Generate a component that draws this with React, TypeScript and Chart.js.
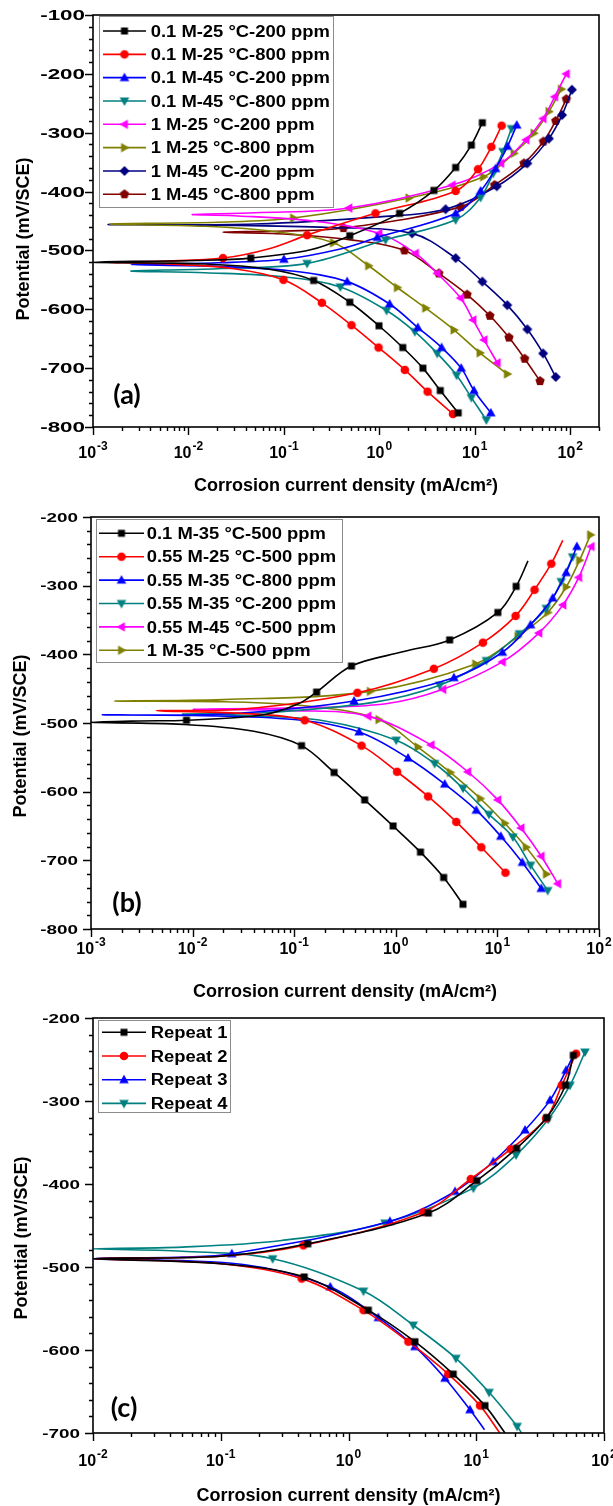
import React, { useEffect, useRef } from 'react';
import { Chart, registerables } from 'chart.js';

Chart.register(...registerables);

// [current density (mA/cm²), potential (mV/SCE), marker shown (1) or not (0)]
type Pt = [number, number, number];

// ---------------- Panel (a) ----------------
const namesA = [
  '0.1 M-25 °C-200 ppm', '0.1 M-25 °C-800 ppm', '0.1 M-45 °C-200 ppm', '0.1 M-45 °C-800 ppm',
  '1 M-25 °C-200 ppm', '1 M-25 °C-800 ppm', '1 M-45 °C-200 ppm', '1 M-45 °C-800 ppm',
];
const a1: Pt[] = [[6.7,-776,1],[4.35,-738,1],[2.86,-700,1],[1.76,-665,1],[0.99,-628,1],[0.49,-588,1],[0.205,-551,1],[0.07,-532,0],[0.015,-523,0],[0.001,-520,0],[0.012,-517,0],[0.045,-513,1],[0.19,-499,0],[0.49,-475,1],[1.63,-437,1],[3.73,-398,1],[6.3,-359,1],[9.2,-321,1],[12,-283,1]];
const a2: Pt[] = [[5.9,-778,1],[3.2,-740,1],[1.85,-703,1],[0.98,-665,1],[0.51,-627,1],[0.25,-589,1],[0.099,-550,1],[0.03,-531,0],[0.006,-523,0],[0.00134,-520,0],[0.006,-518,0],[0.023,-513,1],[0.07,-497,0],[0.175,-474,1],[0.91,-437,1],[6.3,-399,1],[10.8,-362,1],[14.9,-324,1],[19.1,-288,1]];
const a3: Pt[] = [[14.7,-776,1],[9.8,-738,1],[7.2,-700,1],[4.49,-665,1],[2.53,-631,1],[1.28,-591,1],[0.46,-553,1],[0.12,-535,0],[0.02,-527,0],[0.0025,-524,0],[0.02,-521,0],[0.1,-515,1],[0.4,-497,0],[0.95,-478,1],[6.3,-437,1],[11.5,-399,1],[16.5,-361,1],[22,-323,1],[27.5,-287,1]];
const a4: Pt[] = [[13.2,-788,1],[9.2,-750,1],[6.44,-712,1],[4.04,-675,1],[2.35,-638,1],[1.19,-602,1],[0.39,-562,1],[0.1,-545,0],[0.015,-538,0],[0.0025,-535,0],[0.02,-531,0],[0.175,-522,1],[1.16,-482,1],[6.3,-448,1],[11.5,-410,1],[15.6,-369,1],[19.7,-332,1],[24.2,-293,1]];
const a5: Pt[] = [[17.2,-691,1],[12.5,-652,1],[9.6,-618,1],[7.1,-581,1],[4.04,-539,1],[2.39,-505,1],[0.99,-471,1],[0.2,-450,0],[0.03,-441,0],[0.011,-439,0],[0.05,-436,0],[0.48,-428,1],[5.8,-389,1],[18.7,-352,1],[34.4,-312,1],[52,-276,1],[68.7,-239,1],[91,-200,1]];
const a6: Pt[] = [[21.9,-710,1],[11.3,-674,1],[6.04,-635,1],[3.05,-598,1],[1.54,-563,1],[0.77,-526,1],[0.33,-487,1],[0.08,-468,0],[0.015,-459,0],[0.0015,-455,0],[0.02,-452,0],[0.126,-445,1],[2.04,-411,1],[12.3,-375,1],[25.7,-335,1],[41.6,-301,1],[59.7,-264,1],[80.5,-226,1]];
const a7: Pt[] = [[70.4,-715,1],[52,-675,1],[35.5,-634,1],[21.9,-593,1],[12,-553,1],[6.3,-513,1],[2.2,-471,1],[0.3,-461,0],[0.02,-457,0],[0.00145,-456,0],[0.05,-455,0],[1,-443,0],[4.94,-430,1],[17,-391,1],[35.5,-352,1],[59.7,-310,1],[82,-270,1],[104,-227,1]];
const a8: Pt[] = [[48.2,-722,1],[33.3,-684,1],[22.8,-648,1],[14.4,-611,1],[8.3,-575,1],[4.2,-539,1],[1.83,-500,1],[0.5,-482,0],[0.1,-472,0],[0.023,-469,0],[0.1,-467,0],[0.42,-462,1],[7.1,-426,1],[16.1,-389,1],[32.7,-352,1],[52.3,-315,1],[70.4,-280,1],[91,-243,1]];
const yTicksA = [-100, -200, -300, -400, -500, -600, -700, -800];
const xExpsA = [-3, -2, -1, 0, 1, 2];

// ---------------- Panel (b) ----------------
const namesB = [
  '0.1 M-35 °C-500 ppm', '0.55 M-25 °C-500 ppm', '0.55 M-35 °C-800 ppm',
  '0.55 M-35 °C-200 ppm', '0.55 M-45 °C-500 ppm', '1 M-35 °C-500 ppm',
];
const b1: Pt[] = [[4.58,-764,1],[2.96,-725,1],[1.75,-688,1],[0.94,-650,1],[0.494,-612,1],[0.247,-572,1],[0.118,-533,1],[0.04,-512,0],[0.008,-502,0],[0.001,-499,0],[0.003,-497,0],[0.0087,-496,1],[0.05,-488,0],[0.11,-472,0],[0.166,-455,1],[0.366,-417,1],[1.2,-396,0],[3.39,-379,1],[10.1,-339,1],[15.3,-301,1],[20,-264,0]];
const b2: Pt[] = [[12,-718,1],[6.94,-681,1],[3.94,-644,1],[2.08,-607,1],[1.03,-571,1],[0.46,-533,1],[0.127,-496,1],[0.03,-486,0],[0.0044,-482,0],[0.03,-480,0],[0.419,-456,1],[2.37,-421,1],[7.2,-383,1],[15.1,-344,1],[23.2,-306,1],[33.9,-268,1],[44,-234,0]];
const b3: Pt[] = [[27,-741,1],[17.6,-703,1],[10.8,-665,1],[6.2,-627,1],[3.03,-589,1],[1.32,-551,1],[0.435,-513,1],[0.1,-495,0],[0.01,-489,0],[0.0013,-488,0],[0.02,-487,0],[0.388,-468,1],[3.73,-434,1],[11.2,-397,1],[21.2,-357,1],[35,-318,1],[47.5,-281,1],[60.5,-243,1]];
const b4: Pt[] = [[31.3,-744,1],[21.2,-707,1],[14.2,-666,1],[8.26,-633,1],[4.58,-595,1],[2.41,-559,1],[1.01,-525,1],[0.2,-497,0],[0.03,-489,0],[0.008,-487,0],[0.05,-485,0],[0.6,-470,0],[2.7,-445,1],[7.8,-409,1],[16.5,-370,1],[30.3,-333,1],[42.5,-294,1],[55,-258,1]];
const b5: Pt[] = [[39.3,-734,1],[27,-694,1],[17.1,-653,1],[10.1,-612,1],[5.12,-571,1],[2.23,-532,1],[0.533,-490,1],[0.1,-482,0],[0.01,-480,0],[0.1,-478,0],[0.8,-472,0],[2.91,-451,1],[11.2,-411,1],[25.6,-369,1],[44.2,-328,1],[63.2,-288,1],[83.8,-243,1]];
const b6: Pt[] = [[30.3,-720,1],[19.2,-681,1],[11.8,-646,1],[6.78,-610,1],[3.44,-572,1],[1.65,-535,1],[0.68,-495,1],[0.15,-476,0],[0.02,-469,0],[0.0017,-468,0],[0.02,-466,0],[0.56,-454,1],[6.1,-414,1],[15.9,-374,1],[31.3,-339,1],[47.5,-302,1],[64.3,-263,1],[82.4,-226,1]];
const yTicksB = [-200, -300, -400, -500, -600, -700, -800];
const xExpsB = [-3, -2, -1, 0, 1, 2];

// ---------------- Panel (c) ----------------
const namesC = ['Repeat 1', 'Repeat 2', 'Repeat 3', 'Repeat 4'];
const c1: Pt[] = [[16.8,-700,0],[11.7,-667,1],[6.6,-629,1],[3.31,-590,1],[1.43,-552,1],[0.45,-512,1],[0.1,-496,0],[0.01,-490,0],[0.1,-487,0],[0.48,-472,1],[4.22,-435,1],[10.1,-396,1],[20.7,-357,1],[35.6,-320,1],[50,-281,1],[57.5,-245,1]];
const c2: Pt[] = [[15.3,-700,0],[10.7,-667,1],[6.04,-629,1],[2.94,-590,1],[1.31,-552,1],[0.43,-514,1],[0.1,-496,0],[0.01,-490,0],[0.1,-487,0],[0.443,-474,1],[3.86,-434,1],[9.06,-394,1],[18.6,-358,1],[35.2,-321,1],[46.7,-281,1],[60.4,-243,1]];
const c3: Pt[] = [[11.6,-696,0],[8.93,-672,1],[5.69,-634,1],[3.31,-596,1],[1.71,-561,1],[0.72,-524,1],[0.15,-497,0],[0.01,-490,0],[0.05,-488,0],[0.122,-484,1],[2.11,-445,1],[6.82,-409,1],[13.6,-373,1],[24.1,-335,1],[37.8,-299,1],[50.5,-263,1],[58,-244,0]];
const c4: Pt[] = [[22.6,-700,0],[20.9,-692,1],[12.6,-651,1],[6.93,-610,1],[3.21,-570,1],[1.31,-529,1],[0.255,-490,1],[0.05,-481,0],[0.01,-478,0],[0.05,-476,0],[0.3,-468,0],[1.93,-447,1],[9.5,-405,1],[20.5,-365,1],[36.6,-322,1],[54.2,-281,1],[71,-241,1]];
const yTicksC = [-200, -300, -400, -500, -600, -700];
const xExpsC = [-2, -1, 0, 1, 2];

const xTitle = 'Corrosion current density (mA/cm²)';
const yTitle = 'Potential (mV/SCE)';

// ---------------- styling ----------------
const COLORS = ['#000000', '#FF0000', '#0000FF', '#008080', '#FF00FF', '#808000', '#000080', '#800000'];
const SHAPES = ['square', 'circle', 'triUp', 'triDown', 'triLeft', 'triRight', 'diamond', 'pentagon'];
const SANS = "'Liberation Sans', Arial, sans-serif";

function makeMarker(shape: string, color: string): HTMLCanvasElement {
  const n = 14;
  const c = document.createElement('canvas');
  c.width = n; c.height = n;
  const g = c.getContext('2d')!;
  g.fillStyle = color;
  g.translate(n / 2, n / 2);
  g.beginPath();
  const poly = (pts: number[][]) => { g.moveTo(pts[0][0], pts[0][1]); for (let i = 1; i < pts.length; i++) g.lineTo(pts[i][0], pts[i][1]); g.closePath(); };
  switch (shape) {
    case 'square': g.rect(-3.5, -3.5, 7, 7); break;
    case 'circle': g.arc(0, 0, 4.3, 0, Math.PI * 2); break;
    case 'triUp': poly([[0, -5], [4.8, 3.4], [-4.8, 3.4]]); break;
    case 'triDown': poly([[0, 5], [4.8, -3.4], [-4.8, -3.4]]); break;
    case 'triLeft': poly([[-5, 0], [3.4, -4.8], [3.4, 4.8]]); break;
    case 'triRight': poly([[5, 0], [-3.4, -4.8], [-3.4, 4.8]]); break;
    case 'diamond': poly([[0, -5], [5, 0], [0, 5], [-5, 0]]); break;
    case 'pentagon': {
      const p: number[][] = [];
      for (let k = 0; k < 5; k++) { const a = -Math.PI / 2 + k * 2 * Math.PI / 5; p.push([4.9 * Math.cos(a), 4.9 * Math.sin(a)]); }
      poly(p); break;
    }
  }
  g.fill();
  return c;
}

type PanelCfg = {
  series: Pt[][];
  names: string[];
  height: number;
  pad: { left: number; top: number; right: number; bottom: number };
  xMin: number; xMax: number; yMin: number; yMax: number;
  yTicks: number[]; xExps: number[];
  yLabelRight: number; yLabelPx: number; yLabelSx: number;
  xLabelBase: number; xTitleBase: number;
  yTitleX: number; yTitleY: number;
  tag: string; tagX: number; tagY: number;
  legend: { x0: number; y0: number; x1: number; y1: number; row0: number; step: number; lx0: number; lx1: number; tx: number };
};

function stretchText(ctx: CanvasRenderingContext2D, text: string, x: number, y: number, font: string, sx: number, align: 'left' | 'right' | 'center') {
  ctx.save();
  ctx.font = font;
  const w = ctx.measureText(text).width * sx;
  let x0 = x;
  if (align === 'right') x0 = x - w; else if (align === 'center') x0 = x - w / 2;
  ctx.translate(x0, y);
  ctx.scale(sx, 1);
  ctx.textAlign = 'left';
  ctx.fillText(text, 0, 0);
  ctx.restore();
}

function decorPlugin(cfg: PanelCfg, markers: HTMLCanvasElement[]) {
  return {
    id: 'decor',
    afterDatasetsDraw(chart: any) {
      const ctx: CanvasRenderingContext2D = chart.ctx;
      const ca = chart.chartArea;
      const xs = chart.scales.x, ys = chart.scales.y;
      ctx.save();
      ctx.fillStyle = '#000';
      ctx.strokeStyle = '#000';
      ctx.textBaseline = 'alphabetic';
      // frame
      ctx.lineWidth = 1.6;
      ctx.strokeRect(ca.left, ca.top, ca.right - ca.left, ca.bottom - ca.top);
      // y ticks (major every 100, minor every 20)
      ctx.lineWidth = 1.4;
      ctx.beginPath();
      for (let v = cfg.yMin; v <= cfg.yMax; v += 20) {
        const y = Math.round(ys.getPixelForValue(v)) + 0.5;
        const major = Math.abs(v) % 100 === 0;
        ctx.moveTo(ca.left - (major ? 8 : 4), y);
        ctx.lineTo(ca.left, y);
      }
      // x ticks (decades major, 2..9 minor)
      const e0 = Math.floor(Math.log10(cfg.xMin)), e1 = Math.ceil(Math.log10(cfg.xMax));
      for (let e = e0; e <= e1; e++) {
        for (let k = 1; k <= 9; k++) {
          const v = k * Math.pow(10, e);
          if (v < cfg.xMin * 0.999 || v > cfg.xMax * 1.001) continue;
          const x = Math.round(xs.getPixelForValue(v)) + 0.5;
          ctx.moveTo(x, ca.bottom);
          ctx.lineTo(x, ca.bottom + (k === 1 ? 8 : 4));
        }
      }
      ctx.stroke();
      // y tick labels
      const yFont = `bold ${cfg.yLabelPx}px ${SANS}`;
      for (const v of cfg.yTicks) {
        const y = ys.getPixelForValue(v);
        stretchText(ctx, String(v), cfg.yLabelRight, y + cfg.yLabelPx * 0.36, yFont, cfg.yLabelSx, 'right');
      }
      // x tick labels 10^n
      const baseFont = `bold 16px ${SANS}`;
      const supFont = `bold 12px ${SANS}`;
      for (const e of cfg.xExps) {
        const x = xs.getPixelForValue(Math.pow(10, e));
        ctx.font = baseFont;
        const wb = ctx.measureText('10').width;
        ctx.font = supFont;
        const sup = String(e);
        const ws = ctx.measureText(sup).width;
        const left = x - (wb + ws + 1) / 2;
        ctx.font = baseFont; ctx.textAlign = 'left';
        ctx.fillText('10', left, cfg.xLabelBase);
        ctx.font = supFont;
        ctx.fillText(sup, left + wb + 1, cfg.xLabelBase - 8);
      }
      // axis titles
      ctx.font = `bold 18px ${SANS}`;
      ctx.textAlign = 'center';
      ctx.fillText(xTitle, (ca.left + ca.right) / 2, cfg.xTitleBase);
      ctx.save();
      ctx.translate(cfg.yTitleX, cfg.yTitleY);
      ctx.rotate(-Math.PI / 2);
      ctx.textBaseline = 'middle';
      ctx.fillText(yTitle, 0, 0);
      ctx.restore();
      // panel tag
      ctx.font = `bold 27px Lato, 'Open Sans', sans-serif`;
      ctx.textAlign = 'center';
      ctx.textBaseline = 'middle';
      ctx.fillText(cfg.tag, cfg.tagX, cfg.tagY);
      // legend
      const L = cfg.legend;
      ctx.fillStyle = '#fff';
      ctx.fillRect(L.x0, L.y0, L.x1 - L.x0, L.y1 - L.y0);
      ctx.strokeStyle = '#8c8c8c';
      ctx.lineWidth = 1;
      ctx.strokeRect(Math.round(L.x0) + 0.5, Math.round(L.y0) + 0.5, Math.round(L.x1 - L.x0), Math.round(L.y1 - L.y0));
      ctx.textBaseline = 'alphabetic';
      cfg.names.forEach((name, i) => {
        const y = L.row0 + i * L.step;
        ctx.strokeStyle = COLORS[i];
        ctx.lineWidth = 1.6;
        ctx.beginPath();
        ctx.moveTo(L.lx0, y); ctx.lineTo(L.lx1, y);
        ctx.stroke();
        const m = markers[i];
        ctx.drawImage(m, (L.lx0 + L.lx1) / 2 - m.width / 2, y - m.height / 2);
        ctx.fillStyle = '#000';
        stretchText(ctx, name, L.tx, y + 5.7, `bold 16px ${SANS}`, 1.15, 'left');
      });
      ctx.restore();
    },
  };
}

const panelA: PanelCfg = {
  series: [a1, a2, a3, a4, a5, a6, a7, a8], names: namesA, height: 495,
  pad: { left: 93, top: 15, right: 14, bottom: 68 },
  xMin: 0.001, xMax: 200, yMin: -800, yMax: -100, yTicks: yTicksA, xExps: xExpsA,
  yLabelRight: 85, yLabelPx: 14, yLabelSx: 1.6,
  xLabelBase: 458, xTitleBase: 491, yTitleX: 24, yTitleY: 239,
  tag: '(a)', tagX: 127, tagY: 395,
  legend: { x0: 99, y0: 16, x1: 333, y1: 207, row0: 31, step: 23.33, lx0: 103, lx1: 146, tx: 150.7 },
};
const panelB: PanelCfg = {
  series: [b1, b2, b3, b4, b5, b6], names: namesB, height: 508,
  pad: { left: 91, top: 22, right: 14, bottom: 74 },
  xMin: 0.001, xMax: 100, yMin: -800, yMax: -200, yTicks: yTicksB, xExps: xExpsB,
  yLabelRight: 78, yLabelPx: 13, yLabelSx: 1.45,
  xLabelBase: 459, xTitleBase: 502, yTitleX: 21, yTitleY: 241,
  tag: '(b)', tagX: 127, tagY: 408,
  legend: { x0: 96, y0: 24, x1: 342, y1: 167, row0: 38.3, step: 23.4, lx0: 99, lx1: 144, tx: 146.7 },
};
const panelC: PanelCfg = {
  series: [c1, c2, c3, c4], names: namesC, height: 503,
  pad: { left: 93, top: 15, right: 9, bottom: 73 },
  xMin: 0.01, xMax: 100, yMin: -700, yMax: -200, yTicks: yTicksC, xExps: xExpsC,
  yLabelRight: 80, yLabelPx: 13, yLabelSx: 1.45,
  xLabelBase: 463, xTitleBase: 498, yTitleX: 22, yTitleY: 235,
  tag: '(c)', tagX: 124, tagY: 405,
  legend: { x0: 98, y0: 17, x1: 230, y1: 109, row0: 29.3, step: 23.7, lx0: 102, lx1: 146, tx: 150.7 },
};

function Panel({ cfg, top }: { cfg: PanelCfg; top: number }) {
  const ref = useRef<HTMLCanvasElement>(null);
  useEffect(() => {
    if (!ref.current) return;
    const markers = cfg.series.map((_, i) => makeMarker(SHAPES[i], COLORS[i]));
    const datasets = cfg.series.map((pts, i) => ({
      label: cfg.names[i],
      data: pts.map((p) => ({ x: p[0], y: p[1] })),
      borderColor: COLORS[i],
      backgroundColor: COLORS[i],
      borderWidth: 1.6,
      pointStyle: markers[i],
      pointRadius: (c: any) => (pts[c.dataIndex] && pts[c.dataIndex][2] ? 5 : 0),
      pointHoverRadius: 0,
      tension: 0.35,
      fill: false,
    }));
    const chart = new Chart(ref.current, {
      type: 'line',
      data: { datasets } as any,
      options: {
        responsive: false,
        animation: false,
        devicePixelRatio: 1,
        events: [],
        layout: { padding: cfg.pad },
        plugins: { legend: { display: false }, tooltip: { enabled: false } },
        scales: {
          x: { type: 'logarithmic', min: cfg.xMin, max: cfg.xMax, display: false },
          y: { type: 'linear', min: cfg.yMin, max: cfg.yMax, display: false },
        },
      } as any,
      plugins: [decorPlugin(cfg, markers)],
    });
    return () => chart.destroy();
  }, [cfg]);
  return (
    <canvas ref={ref} width={613} height={cfg.height}
      style={{ position: 'absolute', left: 0, top, width: 613, height: cfg.height }} />
  );
}

export default function App() {
  return (
    <div style={{ position: 'absolute', left: 0, top: 0, width: 613, height: 1506, background: '#fff' }}>
      <Panel cfg={panelA} top={0} />
      <Panel cfg={panelB} top={495} />
      <Panel cfg={panelC} top={1003} />
    </div>
  );
}
